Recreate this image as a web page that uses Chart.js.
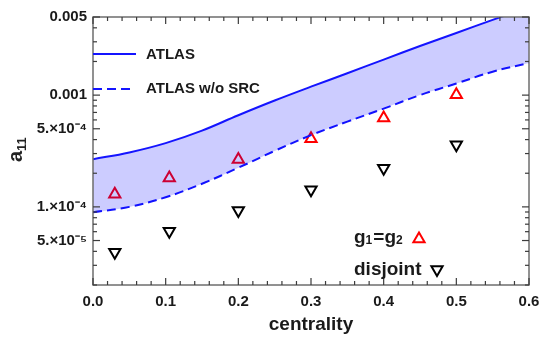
<!DOCTYPE html>
<html>
<head>
<meta charset="utf-8">
<script src="https://cdn.jsdelivr.net/npm/chart.js@4.4.1/dist/chart.umd.min.js"></script>
<style>
  html, body { margin: 0; padding: 0; background: #fff; }
  #wrap { width: 541px; height: 337px; }
</style>
</head>
<body>
<div id="wrap"><canvas id="chart"></canvas></div>
<script>
// centrality values for the curves and the two point sets
const curveX = [0, 0.05, 0.1, 0.15, 0.2, 0.25, 0.3, 0.35, 0.4, 0.45, 0.5, 0.55, 0.6];
const atlas = [2.67e-4, 3.07e-4, 3.72e-4, 4.81e-4, 6.61e-4, 8.95e-4, 1.19e-3, 1.57e-3, 2.08e-3, 2.75e-3, 3.60e-3, 4.71e-3, 6.14e-3];
const atlasNoSrc = [8.93e-5, 1.0e-4, 1.22e-4, 1.61e-4, 2.24e-4, 3.17e-4, 4.38e-4, 5.79e-4, 7.57e-4, 1.0e-3, 1.27e-3, 1.62e-3, 1.94e-3];

const pointX = [0.03, 0.105, 0.2, 0.3, 0.4, 0.5];
const equalG = [1.30e-4, 1.81e-4, 2.65e-4, 4.06e-4, 6.25e-4, 1.01e-3];
const disjoint = [3.92e-5, 6.04e-5, 9.30e-5, 1.42e-4, 2.22e-4, 3.60e-4];

// labelled y ticks (the rest are minor)
const yTickValues = [5e-5, 1e-4, 5e-4, 0.001, 0.005];
const yTickLabels = ['5.×10⁻⁵', '1.×10⁻⁴', '5.×10⁻⁴', '0.001', '0.005'];

const FONT = "'Liberation Sans', Arial, sans-serif";
const BLUE = 'rgb(20,20,255)';

const toPoints = (xs, ys) => xs.map((x, i) => ({ x: x, y: ys[i] }));
const yLabelIndex = v => yTickValues.findIndex(t => Math.abs(v / t - 1) < 1e-6);
const isMajorX = v => Math.abs(v * 10 - Math.round(v * 10)) < 1e-6;

function triangle(ctx, x, y, r, down) {
    const s = down ? -1 : 1;
    ctx.beginPath();
    ctx.moveTo(x, y - s * r);
    ctx.lineTo(x + r * 0.866, y + s * r / 2);
    ctx.lineTo(x - r * 0.866, y + s * r / 2);
    ctx.closePath();
    ctx.stroke();
}

// frame with inward ticks on all four sides, y title and legend
const framePlugin = {
    id: 'frame',
    afterDraw(chart) {
        const ctx = chart.ctx;
        const a = chart.chartArea;
        const sx = chart.scales.x;
        const sy = chart.scales.y;
        ctx.save();

        ctx.strokeStyle = '#6e6e6e';
        ctx.lineWidth = 1.5;
        ctx.strokeRect(a.left, a.top, a.right - a.left, a.bottom - a.top);

        ctx.fillStyle = '#3c3c3c';
        for (let i = 0; i <= 30; i++) {
            const px = sx.getPixelForValue(i * 0.02);
            const len = i % 5 === 0 ? 7 : 4;
            ctx.fillRect(px - 0.6, a.bottom - len, 1.2, len);
            ctx.fillRect(px - 0.6, a.top, 1.2, len);
        }
        for (let e = -5; e <= -3; e++) {
            for (let m = 1; m <= 9; m++) {
                const v = m * Math.pow(10, e);
                if (v < 1.999e-5 || v > 0.00501) continue;
                const py = sy.getPixelForValue(v);
                const len = yLabelIndex(v) >= 0 ? 7 : 4;
                ctx.fillRect(a.left, py - 0.6, len, 1.2);
                ctx.fillRect(a.right - len, py - 0.6, len, 1.2);
            }
        }

        // y axis title a11
        ctx.save();
        ctx.translate(22, 150);
        ctx.rotate(-Math.PI / 2);
        ctx.fillStyle = '#222';
        ctx.textBaseline = 'alphabetic';
        ctx.font = 'bold 20px ' + FONT;
        ctx.fillText('a', -12, 0);
        ctx.font = 'bold 13px ' + FONT;
        ctx.fillText('11', -1, 4);
        ctx.restore();

        // legend for the curves
        ctx.lineWidth = 2;
        ctx.strokeStyle = BLUE;
        ctx.beginPath();
        ctx.moveTo(a.left, 54); ctx.lineTo(136, 54);
        ctx.stroke();
        ctx.setLineDash([9, 5]);
        ctx.beginPath();
        ctx.moveTo(a.left, 89); ctx.lineTo(134, 89);
        ctx.stroke();
        ctx.setLineDash([]);

        ctx.fillStyle = '#1a1a1a';
        ctx.textBaseline = 'middle';
        ctx.font = 'bold 15px ' + FONT;
        ctx.fillText('ATLAS', 146, 55);
        ctx.fillText('ATLAS w/o SRC', 146, 89);

        // legend for the points
        ctx.textBaseline = 'alphabetic';
        let cx = 354;
        const parts = [['g', 19, 0], ['1', 12, 1], ['=', 19, 0], ['g', 19, 0], ['2', 12, 1]];
        parts.forEach(([txt, size, sub]) => {
            ctx.font = 'bold ' + size + 'px ' + FONT;
            ctx.fillText(txt, cx, 243 + (sub ? 1 : 0));
            cx += ctx.measureText(txt).width + (sub ? 1 : 0);
        });
        ctx.font = 'bold 19px ' + FONT;
        ctx.fillText('disjoint', 354, 275);

        ctx.lineWidth = 2;
        ctx.strokeStyle = '#ff0000';
        triangle(ctx, 419, 239, 6.5, false);
        ctx.strokeStyle = '#000';
        triangle(ctx, 437, 269.5, 6.5, true);

        ctx.restore();
    }
};

new Chart(document.getElementById('chart'), {
    type: 'scatter',
    data: {
        datasets: [
            {
                label: 'ATLAS',
                type: 'line',
                data: toPoints(curveX, atlas),
                borderColor: BLUE,
                borderWidth: 2,
                pointRadius: 0,
                tension: 0.4,
                fill: '+1',
                backgroundColor: 'rgba(0,0,255,0.2)',
                order: 0
            },
            {
                label: 'ATLAS w/o SRC',
                type: 'line',
                data: toPoints(curveX, atlasNoSrc),
                borderColor: BLUE,
                borderWidth: 2,
                borderDash: [9, 5],
                pointRadius: 0,
                tension: 0.4,
                fill: false,
                order: 0
            },
            {
                label: 'g1=g2',
                data: toPoints(pointX, equalG),
                pointStyle: 'triangle',
                pointRadius: 6.5,
                pointBorderWidth: 2,
                borderColor: '#ff0000',
                backgroundColor: 'rgba(0,0,0,0)',
                order: 1
            },
            {
                label: 'disjoint',
                data: toPoints(pointX, disjoint),
                pointStyle: 'triangle',
                pointRotation: 180,
                pointRadius: 6.5,
                pointBorderWidth: 2,
                borderColor: '#000',
                backgroundColor: 'rgba(0,0,0,0)',
                order: 1
            }
        ]
    },
    options: {
        responsive: true,
        maintainAspectRatio: false,
        animation: false,
        layout: { padding: { top: 17, right: 12, left: 0, bottom: 0 } },
        plugins: { legend: { display: false }, tooltip: { enabled: false } },
        scales: {
            x: {
                type: 'linear',
                min: 0,
                max: 0.6,
                grid: { display: false, drawTicks: false },
                border: { display: false },
                ticks: {
                    stepSize: 0.02,
                    autoSkip: false,
                    maxRotation: 0,
                    padding: 8,
                    color: '#1a1a1a',
                    font: { family: FONT, size: 15, weight: 'bold' },
                    callback: v => isMajorX(v) ? v.toFixed(1) : ''
                },
                title: {
                    display: true,
                    text: 'centrality',
                    color: '#1a1a1a',
                    font: { family: FONT, size: 19, weight: 'bold' },
                    padding: { top: 0, bottom: 1 }
                },
                afterFit: s => { s.height = 52; s.paddingLeft = 0; s.paddingRight = 0; }
            },
            y: {
                type: 'logarithmic',
                min: 2e-5,
                max: 0.005,
                grid: { display: false, drawTicks: false },
                border: { display: false },
                ticks: {
                    autoSkip: false,
                    padding: 6,
                    color: '#1a1a1a',
                    font: { family: FONT, size: 15, weight: 'bold' },
                    callback: v => {
                        const i = yLabelIndex(v);
                        return i >= 0 ? yTickLabels[i] : '';
                    }
                },
                afterFit: s => { s.width = 93; s.paddingTop = 0; s.paddingBottom = 0; }
            }
        }
    },
    plugins: [framePlugin]
});
</script>
</body>
</html>
